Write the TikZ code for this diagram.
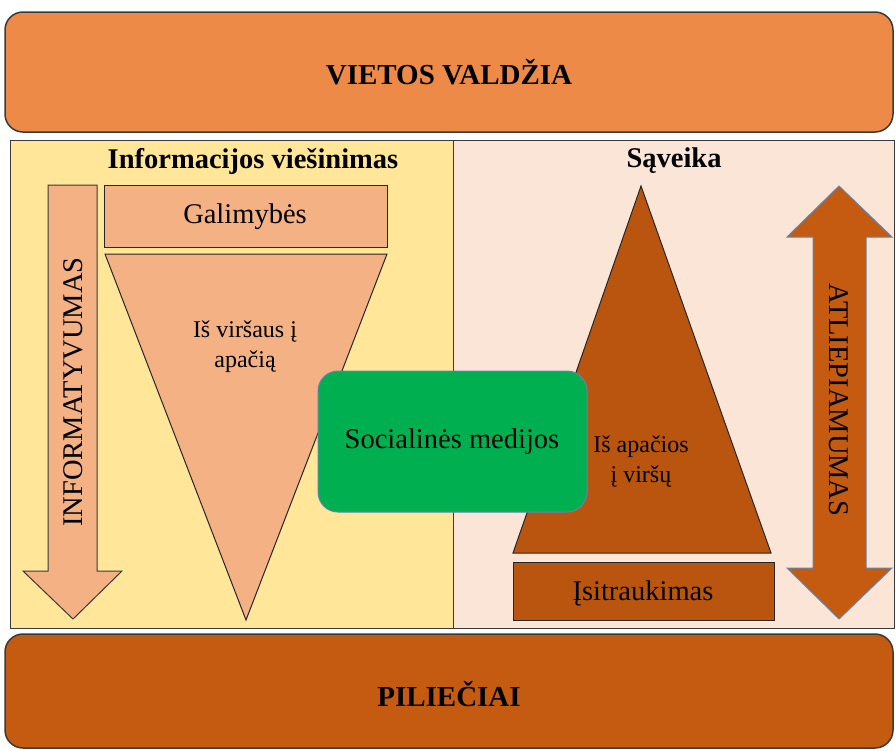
\documentclass[tikz,border=0pt]{standalone}
\usepackage{fontspec}
\setmainfont{Liberation Serif}
\definecolor{topor}{HTML}{ED8A47}
\definecolor{botbr}{HTML}{C55A11}
\definecolor{tribr}{HTML}{B9550F}
\definecolor{yel}{HTML}{FFE699}
\definecolor{pinkbg}{HTML}{FBE5D6}
\definecolor{lightor}{HTML}{F4B183}
\definecolor{grn}{HTML}{00B050}
\definecolor{bluegray}{HTML}{5F86B0}
\definecolor{edge}{HTML}{3A3A3A}
\begin{document}
\begin{tikzpicture}[x=1pt,y=-1pt,
  bigbox/.style={draw=edge, line width=1.5pt, rounded corners=18pt},
  panel/.style={draw=edge, line width=1pt},
  shapeb/.style={draw=black!85, line width=1pt},
  bigtxt/.style={font=\fontsize{29}{33}\selectfont\bfseries, inner sep=0pt},
  ttl/.style={font=\fontsize{28.5}{32}\selectfont\bfseries, inner sep=0pt},
  txt/.style={font=\fontsize{28.5}{32}\selectfont, inner sep=0pt},
  smalltxt/.style={font=\fontsize{24}{30}\selectfont, inner sep=0pt, align=center}]
\useasboundingbox (0,0) rectangle (896,750);
% top box
\draw[bigbox, fill=topor] (5,12) rectangle (893,132);
\node[bigtxt] (vv) at (449,72) {VIETOS VALDŽIA};
% panels
\draw[panel, fill=yel] (10,140) rectangle (453,628);
\draw[panel, fill=pinkbg] (453,140) rectangle (894,628);
\node[ttl] (t1) at (253,161) {Informacijos viešinimas};
\node[ttl] (t2) at (674,161) {Sąveika};
% left side
\draw[shapeb, fill=lightor] (104,185) rectangle (387,247);
\node[txt] (gal) at (245,217) {Galimybės};
\draw[shapeb, fill=lightor] (105,254) -- (387,254) -- (246,620) -- cycle;
\node[smalltxt] (vir) at (245,347) {Iš viršaus į\\apačią};
\draw[draw=edge, line width=1pt, fill=lightor]
  (48,185) -- (97,185) -- (97,571) -- (122,571) -- (73,619) -- (23,571) -- (48,571) -- cycle;
\node[txt, rotate=90] (inf) at (73,392) {INFORMATYVUMAS};
% right side
\draw[shapeb, fill=tribr] (641,186) -- (771,553) -- (513,553) -- cycle;
\node[smalltxt] (apa) at (641,462) {Iš apačios\\į viršų};
\draw[shapeb, fill=tribr] (513,562) rectangle (774,620);
\node[txt] (isi) at (643,593) {Įsitraukimas};
\draw[draw=bluegray, line width=1pt, fill=botbr]
  (839,186) -- (892,237) -- (866,237) -- (866,568) -- (892,568) -- (839,619)
  -- (787,568) -- (813,568) -- (813,237) -- (787,237) -- cycle;
\node[txt, rotate=-90] (atl) at (839,400) {ATLIEPIAMUMAS};
% green box
\draw[draw=bluegray, line width=1pt, fill=grn, rounded corners=20pt] (318,371) rectangle (587,512);
\node[txt] (soc) at (452,442) {Socialinės medijos};
% bottom box
\draw[bigbox, fill=botbr] (5,634) rectangle (893,748);
\node[bigtxt] (pil) at (449,694) {PILIEČIAI};
\end{tikzpicture}
\end{document}
